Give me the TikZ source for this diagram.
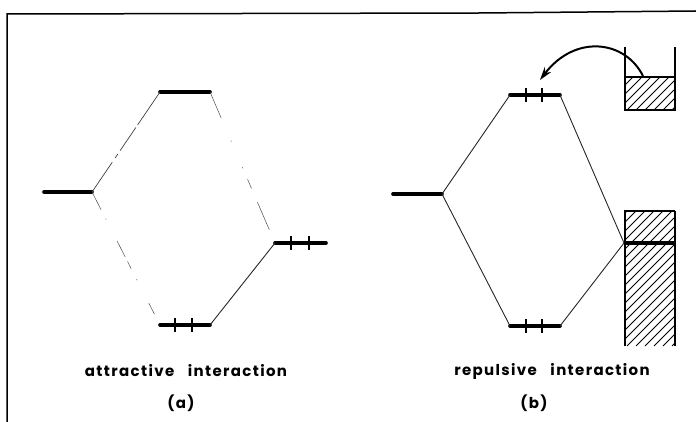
\documentclass[tikz,border=0pt]{standalone}
\usepackage{fontspec}
\setmainfont{Poppins}[LetterSpace=9]
\usetikzlibrary{patterns,arrows.meta}
\tikzset{
 level/.style={line width=3.6pt,line cap=round},
 link/.style={line width=0.9pt,black!85},
 fadeup/.style={line width=0.7pt,black!75,dash pattern=on 36pt off 5pt on 5pt off 4pt on 28pt off 3pt on 40pt off 100pt},
 fadeupr/.style={line width=0.5pt,black!70,dash pattern=on 28pt off 25pt on 1pt off 28pt on 1pt off 12pt on 10pt off 15pt on 30pt off 100pt},
 fadedn/.style={line width=0.5pt,black!70,dash pattern=on 20pt off 10pt on 1pt off 24pt on 18pt off 5pt on 8pt off 12pt on 1pt off 26pt on 12pt off 100pt},
 spin/.style={line width=1.6pt},
 lab/.style={font=\fontsize{15}{17}\selectfont\bfseries,text=black},
 wall/.style={line width=1.7pt},
}
\newcommand{\hatchbox}[4]{%
 \begin{scope}
 \clip (#1,#2) rectangle (#3,#4);
 \foreach \k in {0,9,...,220}{\draw[line width=0.9pt] ({#1+\k-160},{#4+0}) -- ++(200,-200);}
 \end{scope}}
\begin{document}
\begin{tikzpicture}[x=1pt,y=-1pt]
\useasboundingbox (0,0) rectangle (696,422);
\draw[line width=1.5pt] (696,11) -- (480,13) -- (7,14) -- (7,422);
% (a)
\coordinate (a0) at (92,192);
\coordinate (a1l) at (160,92);
\coordinate (a1r) at (210,92);
\coordinate (a2l) at (160,325);
\coordinate (a2r) at (210,325);
\coordinate (a3) at (275,243);
\draw[level] (44,192) -- (a0);
\draw[level] (a1l) -- (a1r);
\draw[level] (a2l) -- (a2r);
\draw[level] (a3) -- (326,243);
\draw[fadeup] (a0) -- (a1l);
\draw[fadedn] (a0) -- (a2l);
\draw[fadeupr] (a1r) -- (a3);
\draw[link] (a2r) -- (a3);
\foreach \x in {175,192}{\draw[spin] (\x,318) -- (\x,332);}
\foreach \x in {291,309}{\draw[spin] (\x,236) -- (\x,250);}
\node[lab] (ta) at (186,371) {attractive\ \ \ interaction};
\node[lab] (la) at (181,403) {(a)};
% (b)
\coordinate (b0) at (442,194);
\coordinate (b1l) at (510,95);
\coordinate (b1r) at (560,95);
\coordinate (b2l) at (510,326);
\coordinate (b2r) at (560,326);
\coordinate (b3) at (624,243);
\draw[level] (393,194) -- (b0);
\draw[level] (b1l) -- (b1r);
\draw[level] (b2l) -- (b2r);
\draw[link] (b0) -- (b1l);
\draw[link] (b0) -- (b2l);
\draw[link] (b1r) -- (b3);
\draw[link] (b2r) -- (b3);
\foreach \x in {526,542}{\draw[spin] (\x,88) -- (\x,102);\draw[spin] (\x,319) -- (\x,333);}
\hatchbox{625}{77}{675}{110}
\draw[wall] (625,47) -- (625,110) -- (675,110) -- (675,47);
\draw[wall] (625,77) -- (675,77);
\hatchbox{625}{211}{675}{346}
\draw[wall] (625,346) -- (625,211) -- (675,211);
\draw[line width=2.4pt] (675,211) -- (675,346);
\draw[line width=3.6pt] (b3) -- (675,243);
\draw[line width=2pt,-{Stealth[length=13pt,width=8pt]}] (643,76) .. controls (625,40) and (575,34) .. (540,80);
\node[lab] (tb) at (552,371) {repulsive\ \ \ interaction};
\node[lab] (lb) at (534,403) {(b)};
\end{tikzpicture}
\end{document}
